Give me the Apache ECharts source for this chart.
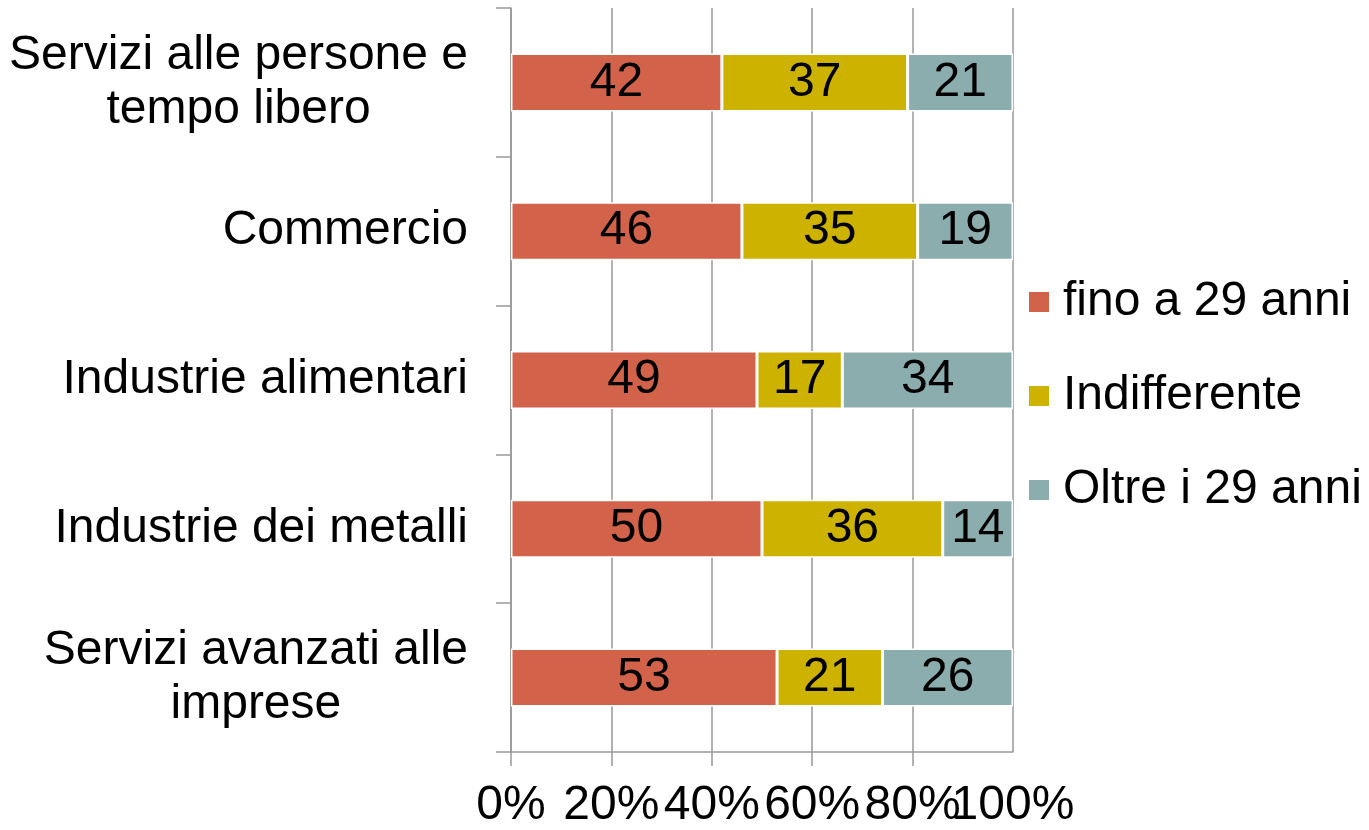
<!DOCTYPE html>
<html>
<head>
<meta charset="utf-8">
<script src="https://cdn.jsdelivr.net/npm/echarts@6/dist/echarts.min.js"></script>
<style>
  html, body { margin: 0; padding: 0; background: #fff; }
  #chart { width: 1369px; height: 830px; }
</style>
</head>
<body>
<div id="chart"></div>
<script>
// categorie (dall'alto verso il basso)
const categories = [
  'Servizi alle persone e\ntempo libero',
  'Commercio',
  'Industrie alimentari',
  'Industrie dei metalli',
  'Servizi avanzati alle\nimprese'
];
const seriesNames = ['fino a 29 anni', 'Indifferente', 'Oltre i 29 anni'];
const fino29 = [42, 46, 49, 50, 53];
const indifferente = [37, 35, 17, 36, 21];
const oltre29 = [21, 19, 34, 14, 26];
const xTicks = [0, 20, 40, 60, 80, 100];

const colors = ['#D2634A', '#CEB200', '#8CADAD'];
const font = '"Liberation Sans", Arial, sans-serif';
const fs = 48;
const xMax = xTicks[xTicks.length - 1];

const myChart = echarts.init(document.getElementById('chart'));

const makeSeries = (name, data, color) => ({
  name: name,
  type: 'bar',
  stack: 'tot',
  data: data,
  barWidth: 58,
  itemStyle: { color: color, borderColor: '#fff', borderWidth: 1.5 },
  label: {
    show: true,
    position: 'inside',
    color: '#000',
    fontSize: fs,
    fontFamily: font
  }
});

const labelStyle = { fontSize: fs, fontFamily: font, color: '#000', margin: 30 };

const option = {
  animation: false,
  color: colors,
  grid: { left: 511, right: 356, top: 8, bottom: 78 },
  legend: {
    orient: 'vertical',
    left: 1027,
    top: 278,
    padding: 0,
    itemWidth: 22,
    itemHeight: 22,
    itemGap: 46,
    icon: 'rect',
    textStyle: { fontSize: fs, fontFamily: font, color: '#000', padding: [0, 0, 0, 8] },
    data: seriesNames
  },
  xAxis: [
    {
      type: 'value',
      min: xTicks[0],
      max: xMax,
      interval: 20,
      axisLine: { show: true, lineStyle: { color: '#999', width: 1.5 } },
      axisTick: { show: true, length: 14, lineStyle: { color: '#999', width: 1.5 } },
      splitLine: { show: true, lineStyle: { color: '#999', width: 1.5 } },
      axisLabel: Object.assign({ formatter: '{value}%', showMinLabel: true, showMaxLabel: false }, labelStyle)
    },
    {
      // secondo asse solo per l'etichetta 100% (le etichette si sovrappongono nell'originale)
      type: 'value',
      position: 'bottom',
      min: xTicks[0],
      max: xMax,
      interval: 20,
      axisLine: { show: false },
      axisTick: { show: false },
      splitLine: { show: false },
      axisLabel: Object.assign({
        formatter: v => (v === xMax ? v + '%' : ''),
        showMaxLabel: true
      }, labelStyle)
    }
  ],
  yAxis: {
    type: 'category',
    inverse: true,
    data: categories,
    axisLine: { show: true, lineStyle: { color: '#999', width: 1.5 } },
    axisTick: { show: true, length: 15, lineStyle: { color: '#999', width: 1.5 } },
    axisLabel: {
      margin: 43,
      align: 'right',
      // righe centrate tra loro, blocco allineato a destra
      formatter: v => v.split('\n').map(s => '{c|' + s + '}').join('\n'),
      rich: {
        c: {
          fontSize: fs,
          fontFamily: font,
          color: '#000',
          lineHeight: 54,
          align: 'center'
        }
      }
    }
  },
  series: [
    makeSeries(seriesNames[0], fino29, colors[0]),
    makeSeries(seriesNames[1], indifferente, colors[1]),
    makeSeries(seriesNames[2], oltre29, colors[2])
  ]
};

myChart.setOption(option);
</script>
</body>
</html>
